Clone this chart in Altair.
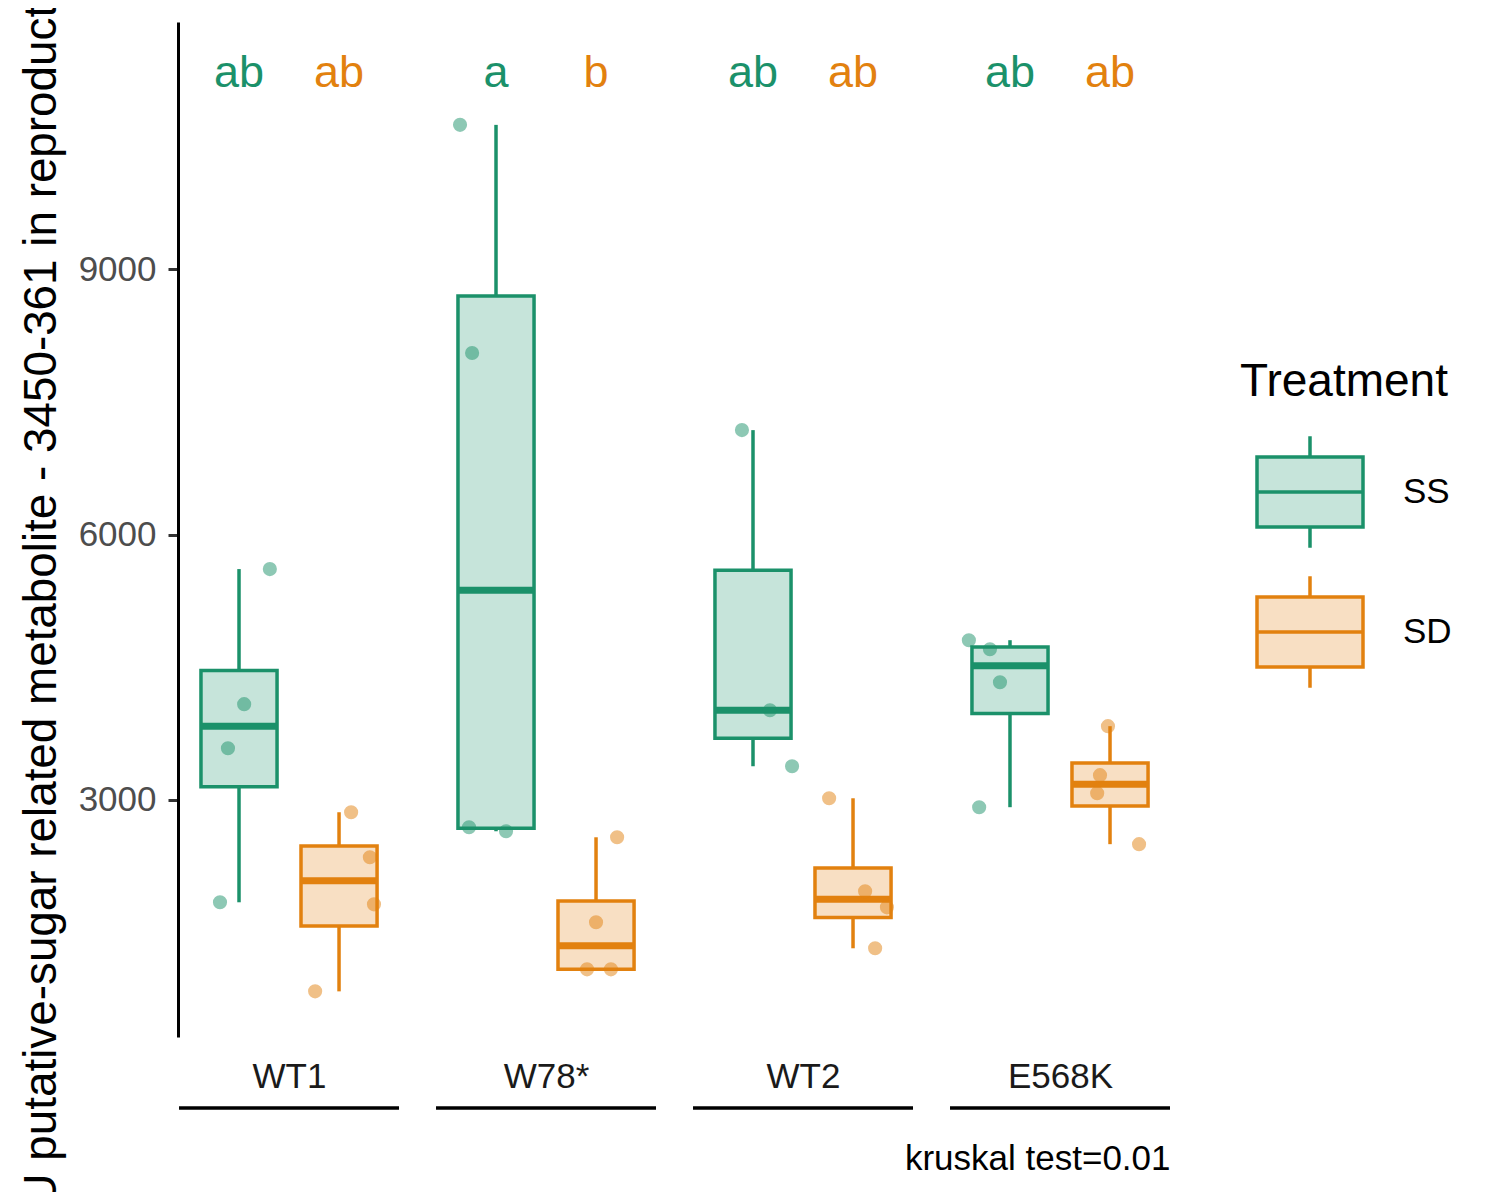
import altair as alt
import pandas as pd

# ---- data ----
genotypes = ["WT1", "W78*", "WT2", "E568K"]
treatments = ["SS", "SD"]

values = {
    ("WT1", "SS"): [5610, 4083, 3585, 1843],
    ("WT1", "SD"): [2861, 2352, 1820, 836],
    ("W78*", "SS"): [10632, 8053, 2691, 2646],
    ("W78*", "SD"): [2578, 1617, 1085, 1085],
    ("WT2", "SS"): [7181, 4014, 3381],
    ("WT2", "SD"): [3019, 1967, 1786, 1323],
    ("E568K", "SS"): [4806, 4704, 4331, 2918],
    ("E568K", "SD"): [3834, 3280, 3077, 2500],
}
# horizontal jitter of each point (fraction of one genotype step)
jitter = {
    ("WT1", "SS"): [0.12, 0.02, -0.043, -0.074],
    ("WT1", "SD"): [0.047, 0.12, 0.136, -0.093],
    ("W78*", "SS"): [-0.14, -0.093, -0.105, 0.039],
    ("W78*", "SD"): [0.082, 0.0, -0.035, 0.058],
    ("WT2", "SS"): [-0.043, 0.066, 0.152],
    ("WT2", "SD"): [-0.093, 0.047, 0.132, 0.086],
    ("E568K", "SS"): [-0.16, -0.078, -0.039, -0.12],
    ("E568K", "SD"): [-0.008, -0.039, -0.05, 0.113],
}
letters = {
    ("WT1", "SS"): "ab", ("WT1", "SD"): "ab",
    ("W78*", "SS"): "a", ("W78*", "SD"): "b",
    ("WT2", "SS"): "ab", ("WT2", "SD"): "ab",
    ("E568K", "SS"): "ab", ("E568K", "SD"): "ab",
}
letter_y = 11220
y_ticks = [3000, 6000, 9000]
caption = "kruskal test=0.01"
y_title = "AU putative-sugar related metabolite - 3450-361 in reproductive tissue"

dark = ["#1B916A", "#E2810F"]
light = ["#C6E4DA", "#F8DFC3"]
FONT = "Liberation Sans"

# ---- tables ----
rows = []
for (g, t), vals in values.items():
    for v, j in zip(vals, jitter[(g, t)]):
        rows.append({"genotype": g, "treatment": t, "gi": genotypes.index(g),
                     "ti": -1 if t == "SS" else 1, "value": v, "jit": j})
pts = pd.DataFrame(rows)

lab = pd.DataFrame([{"genotype": g, "treatment": t, "gi": genotypes.index(g),
                     "ti": -1 if t == "SS" else 1, "letter": s, "ly": letter_y}
                    for (g, t), s in letters.items()])
geno = pd.DataFrame({"genotype": genotypes, "gi": list(range(len(genotypes)))})

DODGE = 0.1946
HALF_BOX = 0.148
HALF_BAND = 0.428

xscale = alt.Scale(domain=[-0.432, 3.428], nice=False, zero=False)
yscale = alt.Scale(domain=[320, 11795], nice=False, zero=False)

label_expr = "[" + ",".join("'" + g + "'" for g in genotypes) + "][datum.value]"

xaxis = alt.Axis(values=list(range(len(genotypes))), labelExpr=label_expr,
                 domain=False, ticks=False, grid=False, labelFlush=False,
                 labelOverlap=False, labelFontSize=35, labelColor="#1A1A1A",
                 labelPadding=22, labelFont=FONT,
                 title=caption, titleAnchor="end", titleFontSize=35,
                 titleFontWeight="normal", titleColor="black", titleFont=FONT,
                 titlePadding=47)
yaxis = alt.Axis(values=y_ticks, format="d", grid=False, domainColor="black",
                 domainWidth=3, tickColor="#333333", tickWidth=3, tickSize=10,
                 labelFontSize=35, labelColor="#4D4D4D", labelPadding=12,
                 labelFont=FONT, labelFlush=False,
                 title=y_title, titleFontSize=45.8, titleFontWeight="normal",
                 titleColor="black", titleFont=FONT, titleAngle=270,
                 titleX=-123, titleY=503, titleBaseline="alphabetic",
                 titleAlign="center", titleLimit=3000)

# colour scale for lines/points/letters (listed in reverse so it is kept
# apart from the fill/stroke legend)
color_dark = alt.Color("treatment:N",
                       scale=alt.Scale(domain=treatments[::-1], range=dark[::-1]),
                       legend=None)

box_path = ("M-1,-0.66L1,-0.66L1,0.66L-1,0.66Z"
            "M0,-0.66L0,-1.05M0,0.66L0,1.05M-1,0L1,0")
legend = alt.Legend(title="Treatment", orient="none", legendX=1062, legendY=338,
                    symbolType=box_path, symbolSize=11236, symbolStrokeWidth=3.5,
                    symbolOffset=15, labelOffset=38, labelFontSize=35,
                    labelColor="black", labelFont=FONT, titleFont=FONT,
                    titleFontSize=46, titleFontWeight="normal", titleColor="black",
                    titleLimit=400, labelLimit=200,
                    titlePadding=31, rowPadding=14)

base = alt.Chart(pts).transform_aggregate(
    q1="q1(value)", q3="q3(value)", med="median(value)",
    lo="min(value)", hi="max(value)", groupby=["genotype", "treatment", "gi", "ti"]
).transform_calculate(
    c=f"datum.gi + {DODGE} * datum.ti",
    l=f"datum.gi + {DODGE} * datum.ti - {HALF_BOX}",
    r=f"datum.gi + {DODGE} * datum.ti + {HALF_BOX}",
)

whisk_hi = base.mark_rule(strokeWidth=3.5).encode(
    x=alt.X("c:Q", scale=xscale, axis=xaxis),
    y=alt.Y("q3:Q", scale=yscale, axis=yaxis),
    y2="hi:Q", color=color_dark)
whisk_lo = base.mark_rule(strokeWidth=3.5).encode(
    x="c:Q", y="lo:Q", y2="q1:Q", color=color_dark)
boxes = base.mark_rect(strokeWidth=3.5).encode(
    x="l:Q", x2="r:Q", y="q1:Q", y2="q3:Q",
    fill=alt.Fill("treatment:N", scale=alt.Scale(domain=treatments, range=light), legend=legend),
    stroke=alt.Stroke("treatment:N", scale=alt.Scale(domain=treatments, range=dark), legend=legend))
median = base.mark_rule(strokeWidth=7).encode(
    x="l:Q", x2="r:Q", y="med:Q", color=color_dark)

points = alt.Chart(pts).transform_calculate(
    px=f"datum.gi + {DODGE} * datum.ti + datum.jit"
).mark_circle(size=200, opacity=0.5).encode(
    x="px:Q", y="value:Q", color=color_dark)

texts = alt.Chart(lab).transform_calculate(
    c=f"datum.gi + {DODGE} * datum.ti"
).mark_text(fontSize=45, font=FONT, baseline="middle", align="center").encode(
    x="c:Q", y="ly:Q", text="letter:N", color=color_dark)

underline = alt.Chart(geno).transform_calculate(
    a=f"datum.gi - {HALF_BAND}", b=f"datum.gi + {HALF_BAND}"
).mark_rule(strokeWidth=3.5, color="black").encode(
    x="a:Q", x2="b:Q", y=alt.value(1086))

chart = alt.layer(whisk_hi, whisk_lo, boxes, median, points, texts, underline).properties(
    width=992, height=1015,
    autosize=alt.AutoSizeParams(type="none"),
    padding={"left": 170, "top": 14, "right": 322, "bottom": 155},
    background="white",
).configure(font=FONT).configure_view(stroke=None)

chart.save("out.html", embed_options={"renderer": "svg", "actions": False})
